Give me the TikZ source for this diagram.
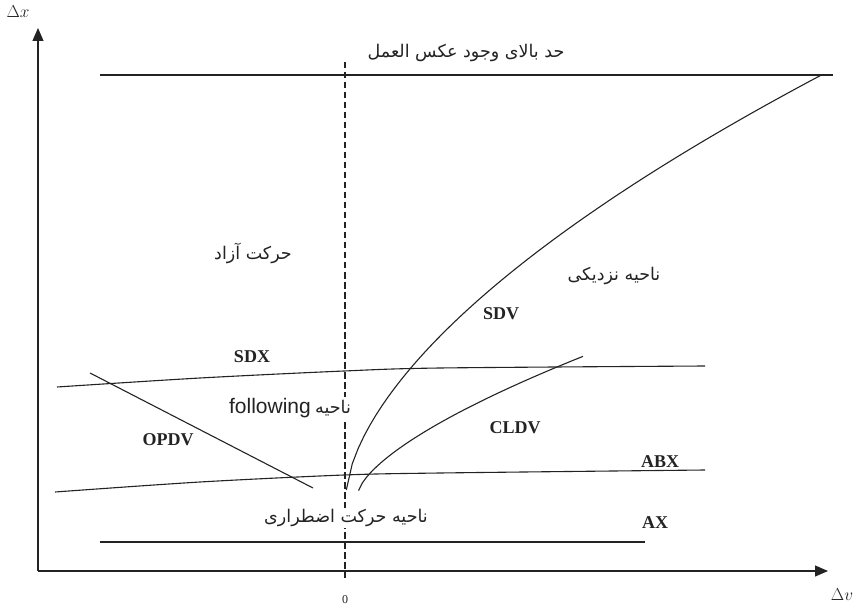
\documentclass[tikz,border=0pt]{standalone}
\usepackage{fontspec}
\setmainfont{Liberation Serif}
\setsansfont{Liberation Sans}
\newfontfamily\arabicfont[Script=Arabic]{DejaVu Sans}
\TeXXeTstate=1
\usetikzlibrary{arrows.meta}
\definecolor{inkK}{RGB}{35,35,35}
\newcommand{\fatxt}[1]{{\arabicfont\beginR #1\endR}}

\begin{document}
\begin{tikzpicture}[x=1pt,y=-1pt,line width=1.1pt,inkK,
  lbl/.style={font=\fontsize{18}{20}\selectfont\bfseries},
  fa/.style={font=\fontsize{17.5}{19}\selectfont,fill=white,inner sep=1pt},
  axisarrow/.style={-{Triangle[length=13pt,width=11pt]}},
  midline/.style={line width=1.8pt,dash pattern=on 6.5pt off 3.5pt}]
  \useasboundingbox (0,0) rectangle (858,609);
  % axes
  \coordinate (O) at (38,571);
  \coordinate (ytip) at (38,28);
  \coordinate (xtip) at (828,571);
  \draw[axisarrow] (O) -- (ytip);
  \draw[axisarrow] (O) -- (xtip);
  \node[font=\fontsize{17}{19}\selectfont] (dx) at (18,12) {$\Delta x$};
  \node[font=\fontsize{17}{19}\selectfont] (dv) at (842,595) {$\Delta v$};
  \node[font=\fontsize{12}{14}\selectfont] (zero) at (345,600) {0};
  % relative speed zero
  \coordinate (mtop) at (345,62);
  \coordinate (mbot) at (345,578);
  \draw[midline] (mtop) -- (mbot);
  % thresholds
  \draw (100,75) -- (833,75);
  \draw (100,542) -- (645,542);
  \draw plot[smooth] coordinates {(57,387) (200,378) (344,371) (440,368) (705,366)};
  \draw plot[smooth] coordinates {(55,492) (200,482) (344,475) (440,473) (705,470)};
  % perception curves, dy ~ dx^p
  \draw plot[domain=0.3:474,samples=80] ({346+\x},{495-10.4*(\x)^0.6});
  \draw plot[domain=0.5:225,samples=60] ({358+\x},{493-3.83*(\x)^0.66});
  \draw (90,373) -- (313,488);
  \foreach \nm/\px/\py in {SDX/252/357, OPDV/168/440, SDV/501/314,
    CLDV/515/428, ABX/660/462, AX/655/523} {
    \node[lbl] (\nm) at (\px,\py) {\nm};
  }
  % regime names
  \node[fa] (upper) at (466,53) {\fatxt{حد بالای وجود عکس العمل}};
  \node[fa] (free) at (253,253) {\fatxt{حرکت آزاد}};
  \node[fa] (close) at (614,276) {\fatxt{ناحیه نزدیکی}};
  \node[fa] (follow) at (290,408) {{\sffamily\fontsize{21}{23}\selectfont following} \fatxt{ناحیه}};
  \node[fa] (emerg) at (346,518) {\fatxt{ناحیه حرکت اضطراری}};
\end{tikzpicture}
\end{document}
